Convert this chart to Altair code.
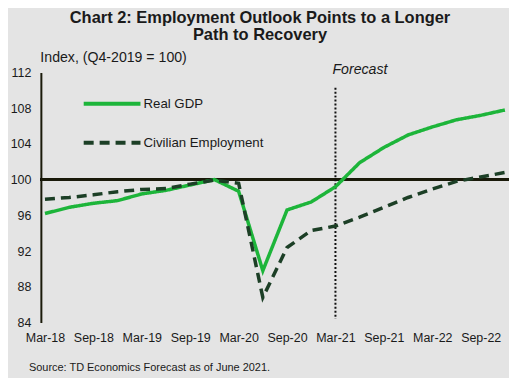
import altair as alt
import pandas as pd

quarters = ["Mar-18", "Jun-18", "Sep-18", "Dec-18", "Mar-19", "Jun-19", "Sep-19", "Dec-19",
            "Mar-20", "Jun-20", "Sep-20", "Dec-20", "Mar-21", "Jun-21", "Sep-21", "Dec-21",
            "Mar-22", "Jun-22", "Sep-22", "Dec-22"]
real_gdp = [96.2, 96.9, 97.35, 97.65, 98.4, 98.8, 99.4, 100.0,
            98.7, 89.8, 96.6, 97.5, 99.2, 101.9, 103.6, 105.0,
            105.9, 106.7, 107.2, 107.8]
employment = [97.8, 98.0, 98.3, 98.65, 98.9, 99.0, 99.5, 99.95,
              99.6, 86.8, 92.4, 94.3, 94.8, 95.8, 96.9, 98.0,
              98.95, 99.8, 100.3, 100.8]
series_names = ["Real GDP", "Civilian Employment"]
series_colors = ["#1db53a", "#1c3f26"]
tick_quarters = quarters[::2]
y_ticks = [84, 88, 92, 96, 100, 104, 108, 112]
forecast_start = "Mar-21"

FONT = "Liberation Sans"

df = pd.DataFrame({
    "quarter": quarters * 2,
    "value": real_gdp + employment,
    "series": [series_names[0]] * len(quarters) + [series_names[1]] * len(quarters),
})

x_axis = alt.Axis(values=tick_quarters, title=None, labelAngle=0, labelAlign="center",
                  labelBaseline="top", domain=False, labelOverlap=False, labelFlush=False,
                  ticks=False, labelPadding=9, labelFontSize=12.5,
                  labelFont=FONT, labelColor="#1a1a1a")
x_scale = alt.Scale(type="point", domain=quarters, padding=0.17)
y_scale = alt.Scale(domain=[84, 112], nice=False, zero=False)

y_axis = alt.Axis(values=y_ticks, grid=False, ticks=False, domainColor="#1a1a0a",
                  domainWidth=2, labelPadding=10, labelFontSize=12.5, labelFont=FONT,
                  labelColor="#1a1a1a", labelOverlap=False, labelFlush=False,
                  title="Index, (Q4-2019 = 100)", titleAngle=0, titleFontWeight="normal",
                  titleFontSize=14.2, titleFont=FONT, titleColor="#1a1a1a",
                  titleAlign="left", titleBaseline="middle", titleX=-1, titleY=-15)

lines = alt.Chart(df).mark_line(strokeWidth=3.5, strokeCap="butt").encode(
    x=alt.X("quarter:O", scale=x_scale, axis=x_axis),
    y=alt.Y("value:Q", scale=y_scale, axis=y_axis),
    color=alt.Color("series:N", scale=alt.Scale(domain=series_names, range=series_colors),
                    legend=alt.Legend(title=None, orient="none", legendX=41, legendY=1,
                                      symbolType="stroke", symbolSize=3249,
                                      symbolStrokeWidth=4, labelFontSize=13.3, labelFont=FONT,
                                      labelColor="#1a1a1a", rowPadding=-4, labelOffset=1)),
    strokeDash=alt.StrokeDash("series:N",
                              scale=alt.Scale(domain=series_names, range=[[1, 0], [10, 6]]),
                              legend=None),
)

hline = alt.Chart(df).mark_rule(color="#1a1a0a", strokeWidth=2).encode(
    y=alt.Y(datum=100, scale=y_scale, axis=y_axis))

fdf = pd.DataFrame({"quarter": [forecast_start], "label": ["Forecast"]})
vline = alt.Chart(fdf).mark_rule(color="#111111", strokeWidth=2, strokeDash=[2, 2]).encode(
    x=alt.X("quarter:O", scale=x_scale, axis=x_axis),
    y=alt.Y(datum=110.3, scale=y_scale, axis=y_axis), y2=alt.datum(84.4))
ftext = alt.Chart(fdf).mark_text(align="left", baseline="middle", fontStyle="italic",
                                 fontSize=14.2, font=FONT, color="#1a1a1a", dx=-3).encode(
    x=alt.X("quarter:O", scale=x_scale, axis=x_axis),
    y=alt.Y(datum=112.3, scale=y_scale, axis=y_axis), text="label:N")

source = alt.Chart(pd.DataFrame({"t": ["Source: TD Economics  Forecast as of June 2021."]})).mark_text(
    align="left", baseline="middle", fontSize=11, font=FONT, color="#1a1a1a").encode(
    x=alt.value(-12), y=alt.value(297), text="t:N")

chart = alt.layer(hline, vline, lines, ftext, source).properties(
    width=470, height=251,
    autosize=alt.AutoSizeParams(type="none"),
    padding={"left": 33, "top": 64, "right": 0, "bottom": 55},
    title=alt.TitleParams(["Chart 2: Employment Outlook Points to a Longer", "Path to Recovery"],
                          anchor="middle", dx=-15, offset=7, fontSize=16.5, fontWeight="bold",
                          font=FONT, color="#1a1a1a", lineHeight=17),
    background="#e4e4e4",
).configure_view(stroke=None).configure_axis(labelOverlap=False)

chart.save("out.html", embed_options={"renderer": "svg", "actions": False})
